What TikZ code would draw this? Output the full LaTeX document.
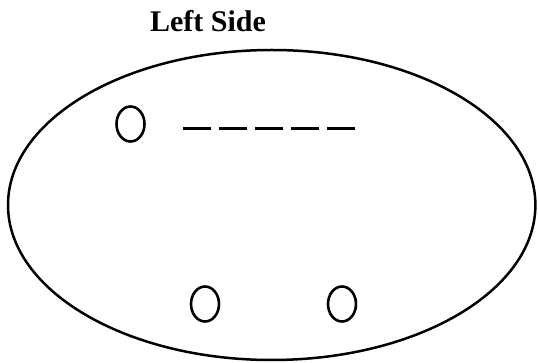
\documentclass[tikz,border=0pt]{standalone}
\usepackage{fontspec}
\setmainfont{Liberation Serif}
\usetikzlibrary{shapes.geometric}

\begin{document}
\begin{tikzpicture}[x=1pt,y=-1pt,
  hole/.style={draw,ellipse,line width=2.6pt,minimum width=28pt,minimum height=35pt,inner sep=0pt}]
\useasboundingbox (0,0) rectangle (538,363);
\node[font=\fontsize{30}{36}\selectfont\bfseries,anchor=base,inner sep=0pt] (title) at (208,32) {Left Side};
\draw[line width=2.5pt] (271.7,205) ellipse [x radius=263.7, y radius=155];
\node[hole] (hole a) at (130.5,124) {};
\node[hole] (hole b) at (205,304) {};
\node[hole] (hole c) at (342,304) {};
\coordinate (dash start) at (183,129);
\coordinate (dash end) at (355,129);
\draw[line width=3pt,dash pattern=on 28pt off 8pt] (dash start) -- (dash end);
\end{tikzpicture}
\end{document}
